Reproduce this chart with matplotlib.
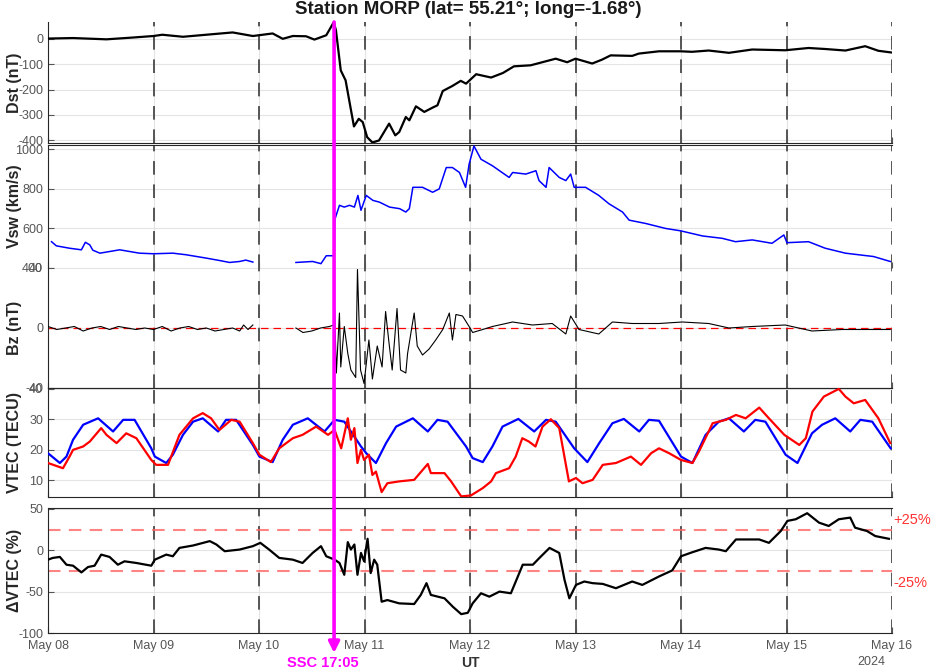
import matplotlib

matplotlib.use("Agg")
import matplotlib.pyplot as plt
import matplotlib.transforms as mtransforms
import numpy as np

plt.rcParams["font.family"] = ["Liberation Sans", "DejaVu Sans"]
plt.rcParams["axes.unicode_minus"] = False

nan = np.nan

# time axis: hours since 2024-05-08 00:00 UT
day_labels = ["May 08", "May 09", "May 10", "May 11", "May 12",
              "May 13", "May 14", "May 15", "May 16"]
ssc_hour = 65.08  # May 10 17:05

# ---- Dst (nT) ----
dst_h = [0, 5.7, 13.3, 19.3, 24, 26, 30.7, 36, 42, 46.6, 51.1, 53.4, 55.7, 58.7, 60.6, 63.3,
         65.0, 65.5, 66.6, 67.7, 68.8, 69.6, 70.7, 71.6, 72.6, 73.8, 75.3, 77.6, 79, 79.9,
         81.4, 82.2, 83.7, 85.6, 87.5, 88.6, 89.8, 92, 93.9, 95.1, 97.4, 100.8, 103.5, 106,
         109.8, 115.5, 118.1, 120, 123.8, 126, 128, 132.9, 134.4, 139, 143.9, 146.5, 150.3,
         154.9, 160.2, 167.7, 173, 176.8, 181.4, 185.9, 188.9, 192]
dst = [0, 2, -3, 4, 10, 15, 7, 15, 24, 10, 20, -1, 10, 9, -4, 13,
       64, 33, -125, -164, -269, -345, -315, -328, -387, -408, -400, -334, -380, -367,
       -308, -321, -266, -288, -271, -262, -206, -186, -166, -177, -140, -153, -135, -109,
       -105, -79, -93, -79, -98, -83, -66, -68, -59, -50, -50, -52, -47,
       -56, -43, -46, -37, -41, -47, -30, -48, -55]

# ---- solar wind speed (km/s) ----
vsw_h = [0.8, 1.9, 4.9, 7.6, 8.5, 9.5, 10.2, 11.8, 16.3, 20.8, 24, 28.4, 31.4, 36, 39, 41.3,
         43.6, 45, 46.6, 50, 56.4, 60.2, 62.1, 63.3, 64.8, 65.1, 65.2, 66.3, 67.4, 68.6,
         69.7, 70.5, 71.2, 72.4, 73.9, 75.4, 77.7, 80, 81.4, 82.2, 83, 85.2, 87.5, 89, 90.6,
         92, 93.6, 95, 95.8, 96.9, 98.5, 101.1, 104.9, 105.7, 108.7, 111, 111.7, 113.3, 114,
         116.3, 117.8, 118.9, 119.7, 122.3, 125.3, 127.6, 130.7, 132.2, 136, 140.5, 143.9,
         148.9, 153.4, 156.4, 160.2, 164.7, 167.4, 168.1, 173, 176.8, 181.4, 184.4, 187.8, 191.6]
vsw = [533, 512, 500, 492, 530, 517, 490, 475, 492, 475, 472, 475, 467, 450, 438, 428,
       433, 440, 430, nan, 428, 433, 422, 462, 462, 462, 642, 717, 708, 717,
       708, 767, 692, 767, 742, 733, 708, 700, 683, 700, 808, 808, 783, 800, 908,
       908, 883, 808, 925, 1017, 950, 917, 858, 883, 875, 892, 842, 808, 908,
       858, 842, 875, 808, 808, 767, 725, 683, 642, 625, 600, 588,
       562, 550, 533, 542, 525, 567, 528, 533, 500, 475, 467, 458, 433]

# ---- IMF Bz (nT) ----
bz_h = [0, 2, 4, 6, 8, 10, 12, 14, 16, 18, 20, 22, 24, 26, 28, 30, 32, 34, 36, 38, 40, 42,
        43.6, 44.5, 45.5, 46.6, 50, 56.4, 58, 60, 62, 64, 65.0, 65.2, 65.6, 66.3, 66.6,
        67.4, 68.2, 68.9, 70, 70.4, 71.1, 71.9, 73, 73.8, 74.9, 76, 76.8, 77.5, 78.3, 79.4,
        80.2, 81.4, 81.8, 83.3, 84, 85.2, 86.7, 88.2, 89.8, 91.3, 92, 92.8, 94.3, 95.8, 96.6,
        98.9, 101.1, 105.7, 110.2, 114.7, 117.8, 118.9, 120.8, 125.3, 128.4, 132.9, 139,
        144.3, 150.3, 154.9, 160.2, 167.7, 173.8, 180.6, 185.9, 191.6]
bz = [1, -1, 0, 1, -2, 0, 1, -1, 1, 0, -1, 0, -1, 1, -2, 0, 1, -1, 0, -2, -1, 0,
      -2, 2, -1, 2, nan, 0, -3, -2, 0, 1, 2, 12, -30, 10, -26,
      1, -17, -28, -33, 39, -28, -37, -8, -34, -12, -26, 11, -8, -28, 13,
      -28, -30, -17, 10, -12, -18, -14, -8, -1, 10, -8, 9, 8, 1, -3,
      -1, 1, 4, 2, 3, -4, 8, -1, -4, 4, 3, 3,
      4, 3, 0, 1, 2, -2, -1, -1, -1]

# ---- VTEC (TECU): reference (blue) and observed (red) ----
vtec_ref_h = [0, 2.7, 4.2, 5.7, 8, 11.4, 14.8, 17.1, 19.7, 23.5, 24.3, 26.9, 28.4, 30.7, 33,
              35.2, 38.7, 40.5, 42.8, 46.6, 48.1, 51.1, 53.4, 55.7, 59.1, 62.9, 65.2, 67.4,
              71.2, 72.4, 74.6, 76.9, 79.2, 83, 86.4, 88.6, 90.9, 95.1, 96.6, 98.9, 101.1,
              103.4, 107, 110.6, 113.3, 115.5, 119.7, 122.7, 125.4, 128.4, 131, 134.5, 136.7,
              139, 144, 146.6, 149.6, 152.6, 154.9, 158.3, 160.9, 163.2, 167.8, 170.5, 173.8,
              176.1, 179.1, 182.5, 184.8, 187.5, 191.7]
vtec_ref = [18.9, 15.7, 17.8, 23.3, 28.2, 30.3, 26, 29.8, 29.8, 20.5, 17.8, 15.7, 18.4, 24.9,
            29.2, 30.3, 26, 29.8, 29.8, 21.6, 17.8, 16, 23.3, 28.2, 30.3, 26, 29.8, 29.2,
            21.1, 18.9, 15.7, 22.2, 27.6, 30.3, 26, 29.8, 29.2, 21.1, 17.3, 16, 21.1,
            27.6, 30.1, 26, 29.8, 29.2, 20.5, 16, 22.2, 28.7, 30.1, 26, 29.8,
            29.5, 17.8, 15.7, 24.9, 29.2, 30.3, 26, 29.8, 29.2, 18.4, 15.7, 25.4,
            28.2, 30.3, 26, 29.8, 29.2, 20.5]
vtec_obs_h = [0, 3.4, 4.9, 5.7, 8, 9.5, 12.1, 13.3, 15.6, 17.8, 20.1, 23.5, 24.6, 27.3, 29.9,
              33, 35.2, 37.1, 39, 41.7, 43.6, 46.6, 48.1, 50.7, 52.6, 55.7, 57.9, 61, 63.7,
              65.2, 66.7, 68.2, 68.9, 69.7, 70.4, 71.2, 71.9, 73, 73.8, 74.6, 75.9, 77.2,
              79.9, 83.3, 86.4, 87.1, 90.2, 91.7, 94, 96.2, 98.9, 100.8, 101.9, 104.9, 106.4,
              107.9, 109.4, 110.9, 112.5, 114.4, 116.3, 118.5, 120.1, 121.6, 123.9, 126.2,
              129.2, 132.6, 134.9, 137.2, 139, 141.3, 144, 146.6, 148.1, 151.2, 154.2, 156.5,
              158.7, 161.8, 164, 167.5, 170.9, 172.4, 173.9, 176.5, 179.9, 181.4, 183.3,
              185.9, 188.9, 191.6]
vtec_obs = [15.7, 14, 17.8, 20, 21.1, 22.7, 27.1, 24.9, 22.2, 25.4, 23.8, 16.7, 15.1, 15.1,
            24.9, 30.3, 32, 30.3, 26.5, 29.8, 29.2, 22.2, 18.4, 16, 20.5, 23.8, 24.9, 27.6,
            24.9, 26.5, 20.5, 30.3, 23.3, 27.1, 15.7, 20, 16.7, 18.4, 11.8, 12.9, 6.2, 9.1,
            9.7, 10.2, 15.4, 12.4, 12.4, 9.7, 4.8, 5.1, 7.5, 9.7, 12.4, 14, 17.8,
            23.8, 22.7, 21.1, 27.6, 30, 27.1, 9.7, 10.8, 9.1, 10.2, 15.1,
            15.7, 17.8, 15.1, 18.9, 20.5, 18.9, 16.7, 15.7, 19.5, 28.7, 29.8, 31.4,
            30.3, 33.8, 30.3, 24.9, 21.6, 23.8, 32.5, 37.4, 39.9, 37.4, 35.2,
            36.3, 30.3, 22.2]

# ---- dVTEC (%) ----
dvtec_h = [0, 1.1, 2.7, 4.2, 5.7, 7.6, 9.1, 10.6, 12.1, 14, 15.9, 17.4, 20.1, 23.5, 24.3,
           26.9, 28.4, 29.9, 33, 36.8, 38.3, 40.2, 43.6, 46.6, 48.3, 50.3, 52.6, 55.7, 57.9,
           60.2, 62.1, 63.3, 65.2, 66.3, 67.4, 68.2, 68.9, 69.7, 70.4, 71.2, 71.9, 72.7,
           73.4, 74.2, 74.9, 75.9, 77.2, 79.9, 83.3, 84.8, 86.1, 87.1, 90.2, 92.1, 94, 95.5,
           96.6, 98.5, 100.4, 102.7, 105.3, 108, 110.3, 111.8, 114.1, 116.3, 117.5, 118.6,
           120.1, 122, 123.9, 126.2, 129.2, 132.9, 135.2, 139, 142, 144, 146.6, 149.6,
           152.6, 154.2, 156.5, 159.5, 161.8, 164, 166.7, 168.2, 170.1, 172.7, 175.4,
           177.6, 179.9, 182.5, 183.6, 186.3, 188.2, 191.3]
dvtec = [-11.4, -9.3, -8.1, -17.5, -18.7, -26.8, -20.3, -18.7, -5.3, -8.1, -17.5, -13.4,
         -15.4, -18.7, -11.4, -5.3, -7.3, 2.8, 5.7, 11, 6.9, -1.2, 0.8, 4.9, 8.9, 0.8, -9.3,
         -11.4, -15.4, -3.3, 4.9, -7.3, -11.4, -15.4, -29.7, 9.8, 0.8, 6.9, -29.7, -3.3,
         -13.4, 13.8, -27.6, -11.4, -17.5, -62.2, -60.2, -64.2, -65, -54, -39.8, -54,
         -58.1, -68.3, -77.2, -75.6, -64.2, -52, -56.1, -50, -52, -17.5, -17.5, -9.3, 2.8,
         -3.3, -35.8, -58.1, -41.9, -37.8, -39.8, -40.7, -45.9, -37.8, -41.9, -31.7,
         -24.4, -7.3, -2.4, 2.8, 0.8, -1.2, 13, 13, 13, 8.9, 23.2, 35.4, 37.4, 44.7,
         33.3, 29.3, 37.4, 39.4, 27.2, 23.2, 17.1, 13.8]

W, H = 934, 671
fig = plt.figure(figsize=(W / 100, H / 100), dpi=100)


def add_ax(top_px, bot_px):
    return fig.add_axes([48 / W, 1 - bot_px / H, 844 / W, (bot_px - top_px) / H])


ax_dst = add_ax(22, 143)
ax_vsw = add_ax(145, 268)
ax_bz = add_ax(268, 388)
ax_tec = add_ax(388, 497)
ax_dv = add_ax(508, 633)
axes = [ax_dst, ax_vsw, ax_bz, ax_tec, ax_dv]

day_ticks = np.arange(0, 193, 24)
tick_col = "#555555"
lab_kw = dict(fontsize=11.5, fontweight="bold", color="#262626")

for ax in axes:
    ax.set_xlim(0, 192)
    ax.set_xticks(day_ticks)
    ax.grid(True, color="#e4e4e4", lw=0.8)
    ax.set_axisbelow(True)
    for d in day_ticks:
        ax.axvline(d, color="#555555", lw=1.4, ls=(0, (7, 5)), zorder=1.5)
    ax.tick_params(direction="in", length=4, labelsize=9, colors=tick_col,
                   top=False, right=False)
    ax.tick_params(axis="x", labelbottom=False)
    ax.spines["right"].set_visible(False)
    for s in ax.spines.values():
        s.set_color("#262626")
    ax.yaxis.set_label_coords(-0.031, 0.5)

ax_dst.spines["top"].set_visible(False)
ax_vsw.spines["bottom"].set_visible(False)
ax_bz.spines["top"].set_visible(False)

# Dst
ax_dst.plot(dst_h, dst, color="black", lw=1.6, zorder=3)
ax_dst.set_ylim(-410, 65)
ax_dst.set_yticks([-400, -300, -200, -100, 0])
ax_dst.set_ylabel("Dst (nT)", **lab_kw)

# Vsw
ax_vsw.plot(vsw_h, vsw, color="blue", lw=1.1, zorder=3)
ax_vsw.set_ylim(400, 1022)
ax_vsw.set_yticks([400, 600, 800, 1000])
ax_vsw.set_ylabel("Vsw (km/s)", **lab_kw)

# Bz
ax_bz.axhline(0, color="red", lw=0.9, ls=(0, (6, 4)), zorder=2.5)
ax_bz.plot(bz_h, bz, color="black", lw=0.8, zorder=3)
ax_bz.set_ylim(-40, 40)
ax_bz.set_yticks([-40, 0, 40])
ax_bz.set_ylabel("Bz (nT)", **lab_kw)

# VTEC
ax_tec.plot(vtec_ref_h, vtec_ref, color="blue", lw=1.6, zorder=3)
ax_tec.plot(vtec_obs_h, vtec_obs, color="red", lw=1.6, zorder=3)
ax_tec.set_ylim(4.6, 40.2)
ax_tec.set_yticks([10, 20, 30, 40])
ax_tec.set_ylabel("VTEC (TECU)", **lab_kw)

# dVTEC
for lev in (25, -25):
    ax_dv.axhline(lev, color="#ff6666", alpha=0.8, lw=1.5, ls=(0, (6, 4)), zorder=2.5)
ax_dv.plot(dvtec_h, dvtec, color="black", lw=1.6, zorder=3)
ax_dv.set_ylim(-100, 51)
ax_dv.set_yticks([-100, -50, 0, 50])
ax_dv.set_ylabel("\u0394VTEC (%)", **lab_kw)
ax_dv.tick_params(axis="x", labelbottom=True, pad=5)
ax_dv.set_xticklabels(day_labels)
side = mtransforms.blended_transform_factory(ax_dv.transAxes, ax_dv.transData)
ax_dv.text(1.002, 36, "+25%", color="#ff3333", fontsize=10.5, va="center", ha="left",
           transform=side)
ax_dv.text(1.002, -39, "-25%", color="#ff3333", fontsize=10.5, va="center", ha="left",
           transform=side)

# SSC marker across all panels
trans = mtransforms.blended_transform_factory(ax_dv.transData, fig.transFigure)
ax_dv.annotate("", xy=(ssc_hour, 1 - 653 / H), xycoords=trans,
               xytext=(ssc_hour, 1 - 22 / H), textcoords=trans,
               arrowprops=dict(arrowstyle="-|>", color="#ff00ff", lw=2.6,
                               mutation_scale=16, shrinkA=0, shrinkB=0),
               annotation_clip=False, zorder=10)
fig.text(323 / W, 1 - 663 / H, "SSC 17:05", color="#ff00ff", fontsize=10.5,
         fontweight="bold", ha="center", va="center")
fig.text(470 / W, 1 - 663 / H, "UT", color="#333333", fontsize=10,
         fontweight="bold", ha="center", va="center")
fig.text(871 / W, 1 - 662 / H, "2024", color=tick_col, fontsize=9,
         ha="center", va="center")

fig.text(468 / W, 1 - 9 / H, "Station MORP (lat= 55.21\u00b0; long=-1.68\u00b0)",
         fontsize=13.5, fontweight="bold", ha="center", va="center", color="#1a1a1a")

fig.savefig("out.png", dpi=100)
